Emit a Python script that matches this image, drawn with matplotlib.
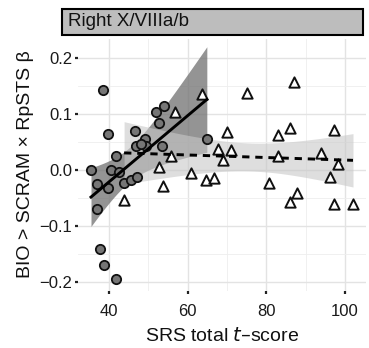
import numpy as np
import matplotlib
matplotlib.use("Agg")
import matplotlib.pyplot as plt
from matplotlib.patches import Rectangle

plt.rcParams["font.family"] = ["Liberation Sans", "DejaVu Sans"]

# circles (group 1)
circle_x = [38.6, 39.7, 35.5, 36.9, 36.9, 39.7, 41.8, 40.5, 42.6, 43.9, 45.7, 47.1,
            46.6, 49.1, 47.0, 49.5, 48.3, 51.9, 54.0, 52.7, 53.6, 64.9, 37.7, 38.7, 41.8]
circle_y = [0.144, 0.066, 0.000, -0.025, -0.069, -0.032, 0.025, 0.000, -0.002, -0.023, -0.017, -0.011,
            0.071, 0.057, 0.043, 0.044, 0.047, 0.104, 0.116, 0.084, 0.044, 0.056, -0.140, -0.169, -0.194]

# triangles (group 2)
tri_x = [56.7, 63.8, 75.0, 87.1, 55.9, 52.8, 53.8, 43.9, 60.9, 64.8, 66.8, 67.8, 69.9, 71.0,
         68.9, 82.9, 86.0, 97.1, 82.9, 93.9, 98.1, 80.8, 96.1, 87.9, 86.0, 97.1, 102.0]
tri_y = [0.105, 0.137, 0.138, 0.158, 0.025, 0.007, -0.027, -0.052, -0.004, -0.017, -0.013, 0.039, 0.068, 0.037,
         0.019, 0.063, 0.075, 0.072, 0.026, 0.032, 0.012, -0.022, -0.012, -0.040, -0.057, -0.059, -0.060]


def lm_fit(x, y, t_crit):
    # straight-line fit with 95% confidence band, like geom_smooth(method="lm")
    x = np.array(x)
    y = np.array(y)
    slope, icpt = np.polyfit(x, y, 1)
    xs = np.linspace(x.min(), x.max(), 80)
    fit = icpt + slope * xs
    resid = y - (icpt + slope * x)
    s = np.sqrt(np.sum(resid ** 2) / (len(x) - 2))
    se = s * np.sqrt(1 / len(x) + (xs - x.mean()) ** 2 / np.sum((x - x.mean()) ** 2))
    return xs, fit, fit - t_crit * se, fit + t_crit * se


fig = plt.figure(figsize=(3.69, 3.48), dpi=100)
ax = fig.add_axes([78 / 369, 1 - 290.6 / 348, 288 / 369, 252 / 348])

cx, cfit, clo, chi = lm_fit(circle_x, circle_y, 2.07)
tx, tfit, tlo, thi = lm_fit(tri_x, tri_y, 2.06)

ax.fill_between(cx, clo, chi, color="#707070", alpha=0.75, linewidth=0, zorder=2)
ax.fill_between(tx, tlo, thi, color="#c8c8c8", alpha=0.6, linewidth=0, zorder=2)

ax.scatter(circle_x, circle_y, s=45, marker="o", facecolor="#767676",
           edgecolor="#111111", linewidth=1.3, zorder=3)
ax.scatter(tri_x, tri_y, s=55, marker="^", facecolor="white",
           edgecolor="#111111", linewidth=1.4, zorder=3)

ax.plot(cx, cfit, color="black", linewidth=2.1, zorder=4)
ax.plot(tx, tfit, color="black", linewidth=2.1, linestyle=(0, (2.5, 2.0)), zorder=4)

ax.set_xlim(32.2, 105.3)
ax.set_ylim(-0.2145, 0.2355)
ax.set_xticks([40, 60, 80, 100])
ax.set_yticks([-0.2, -0.1, 0.0, 0.1, 0.2])
ax.set_yticklabels(["\u22120.2", "\u22120.1", "0.0", "0.1", "0.2"])
ax.set_xticks([50, 70, 90], minor=True)
ax.set_yticks([-0.15, -0.05, 0.05, 0.15], minor=True)
ax.grid(True, which="major", color="#e3e3e3", linewidth=1.0)
ax.grid(True, which="minor", color="#eeeeee", linewidth=0.6)
ax.set_axisbelow(True)
for sp in ax.spines.values():
    sp.set_visible(False)
ax.tick_params(which="major", length=2.5, width=1.6, color="#222222",
               labelsize=12, labelcolor="#1a1a1a")
ax.tick_params(axis="x", which="major", pad=7)
ax.tick_params(axis="y", which="major", pad=1.5)
ax.tick_params(which="minor", length=0)

ax.set_xlabel("SRS total $\\it{t}$\u2013score", fontsize=14, color="#111111", labelpad=6)
ax.set_ylabel("BIO > SCRAM \u00d7 RpSTS \u03b2", fontsize=14, color="#111111", labelpad=4)

# facet strip
strip = Rectangle((62 / 369, 1 - 35 / 348), 301 / 369, 26 / 348, transform=fig.transFigure,
                  facecolor="#bdbdbd", edgecolor="black", linewidth=1.5)
fig.patches.append(strip)
fig.text(68 / 369, 1 - 22 / 348, "Right X/VIIIa/b", fontsize=13.5, color="#111111",
         ha="left", va="center")

plt.savefig("out.png", dpi=100)
